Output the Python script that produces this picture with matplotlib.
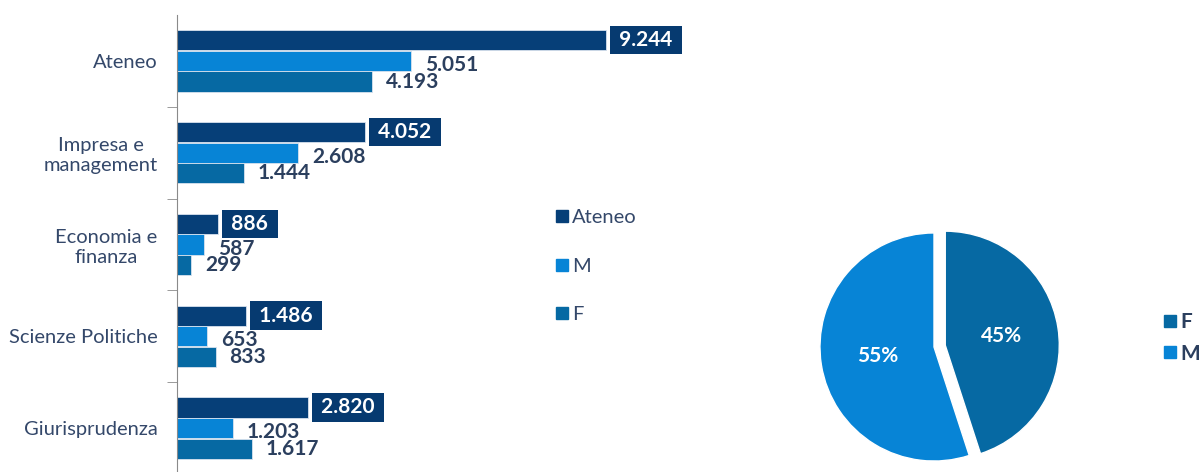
import matplotlib
matplotlib.use("Agg")
import matplotlib.pyplot as plt
from matplotlib.lines import Line2D

plt.rcParams['font.family'] = ['Lato', 'DejaVu Sans']

# data
categories = ["Ateneo", "Impresa e\nmanagement", "Economia e\nfinanza",
              "Scienze Politiche", "Giurisprudenza"]
ateneo = [9244, 4052, 886, 1486, 2820]
maschi = [5051, 2608, 587, 653, 1203]
femmine = [4193, 1444, 299, 833, 1617]
pie_labels = ["F", "M"]
pie_values = [45, 55]

c_ateneo = "#063f78"
c_m = "#0784d6"
c_f = "#0669a3"
c_text = "#2b3f5e"

def fmt(v):
    return f"{v:,}".replace(",", ".")

fig = plt.figure(figsize=(12, 4.72), dpi=100)

# bar chart
ax = fig.add_axes([177/1200, -2/472, 523/1200, 459/472])
y = list(range(len(categories)))
h = 0.22
ax.barh([i - 0.225 for i in y], ateneo, height=h, color=c_ateneo, edgecolor="#d8e2ee", linewidth=0.6)
ax.barh(y, maschi, height=h, color=c_m, edgecolor="#d8e2ee", linewidth=0.6)
ax.barh([i + 0.225 for i in y], femmine, height=h, color=c_f, edgecolor="#d8e2ee", linewidth=0.6)
ax.set_xlim(0, 11270)
ax.set_ylim(len(categories) - 0.5, -0.5)
ax.set_yticks(y)
ax.set_yticklabels(categories, multialignment="center", fontsize=14.5, color="#34486a")
ax.set_yticks([i + 0.5 for i in y[:-1]], minor=True)
ax.tick_params(axis="y", which="major", length=0, pad=14)
ax.tick_params(axis="y", which="minor", length=7, color="#8a8a8a", direction="out")
ax.set_xticks([])
for s in ["top", "right", "bottom"]:
    ax.spines[s].set_visible(False)
ax.spines["left"].set_color("#8a8a8a")

for i in y:
    ax.annotate(" " + fmt(ateneo[i]) + " ", (ateneo[i], i - 0.225), xytext=(6, 0),
                textcoords="offset points", ha="left", va="center", fontsize=15,
                fontweight="bold", color="white",
                bbox=dict(boxstyle="square,pad=0.2", fc="#063a70", ec="none"))
    ax.annotate(fmt(maschi[i]), (maschi[i], i), xytext=(10, -3),
                textcoords="offset points", ha="left", va="center", fontsize=15,
                fontweight="bold", color=c_text)
    ax.annotate(fmt(femmine[i]), (femmine[i], i + 0.225), xytext=(10, 0),
                textcoords="offset points", ha="left", va="center", fontsize=15,
                fontweight="bold", color=c_text)

handles = [Line2D([], [], marker="s", ls="none", color=c, markersize=8)
           for c in (c_ateneo, c_m, c_f)]
fig.legend(handles, ["Ateneo", "M", "F"], loc="center left",
           bbox_to_anchor=(536/1200, 1 - 266/472), frameon=False, fontsize=14.5,
           labelspacing=1.55, handlelength=0.8, handletextpad=0.1, labelcolor="#34486a")

# pie chart
pax = fig.add_axes([(934 - 130)/1200, (472 - 347 - 130)/472, 260/1200, 260/472])
wedges, texts, autotexts = pax.pie(
    pie_values, colors=[c_f, c_m], startangle=90, counterclock=False,
    explode=[0.1, 0], autopct="%d%%", pctdistance=0.5,
    wedgeprops=dict(edgecolor="white", linewidth=1),
    textprops=dict(color="white", fontsize=15, fontweight="bold"))
pax.set_xlim(-1.14, 1.14)
pax.set_ylim(-1.14, 1.14)
pax.set_aspect("equal")
pax.axis("off")

handles2 = [Line2D([], [], marker="s", ls="none", color=c, markersize=8)
            for c in (c_f, c_m)]
leg = fig.legend(handles2, pie_labels, loc="center left",
                 bbox_to_anchor=(1143/1200, 1 - 338/472), frameon=False, fontsize=15,
                 labelspacing=0.55, handlelength=0.8, handletextpad=0.1, labelcolor=c_text)
for t in leg.get_texts():
    t.set_fontweight("bold")

fig.savefig("out.png", dpi=100)
